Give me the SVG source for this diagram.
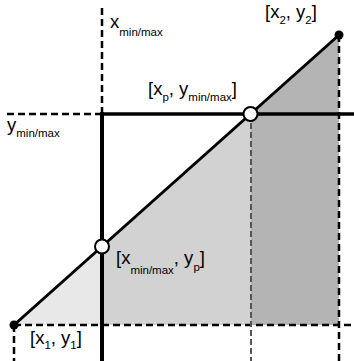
<svg xmlns="http://www.w3.org/2000/svg" width="354" height="361" viewBox="0 0 354 361">
<style>
.dash{stroke:#000;stroke-width:2.5;stroke-dasharray:7 4;fill:none}
.gdash{stroke:#555;stroke-width:2;stroke-dasharray:6 3;fill:none}
.thick{stroke:#000;fill:none}
.lbl{font-family:"Liberation Sans",Arial,sans-serif;font-size:18.5px;fill:#000}
.sub{font-size:11.5px}
</style>
<rect width="354" height="361" fill="#fff"/>
<g id="regions">
<polygon points="14,325 102,246.5 102,325" fill="#e8e8e8"/>
<polygon points="102,246.5 250.5,114 250.5,325 102,325" fill="#d2d2d2"/>
<polygon points="250.5,114 339,35 339,325 250.5,325" fill="#b4b4b4"/>
</g>
<g id="connectors">
<line class="dash" x1="102" y1="8" x2="102" y2="114"/>
<line class="dash" x1="7" y1="114" x2="102" y2="114"/>
<line class="dash" x1="14" y1="325" x2="354" y2="325"/>
<line class="dash" x1="14" y1="325" x2="14" y2="361"/>
<line class="dash" x1="339" y1="35" x2="339" y2="361"/>
<line class="gdash" x1="251" y1="114" x2="251" y2="361"/>
<line class="thick" stroke-width="4" x1="102" y1="112" x2="102" y2="361"/>
<line class="thick" stroke-width="3.5" x1="100" y1="114" x2="354" y2="114"/>
<line class="thick" stroke-width="3" x1="14" y1="325" x2="339" y2="35"/>
</g>
<g id="p1"><circle cx="14" cy="325" r="4.5" fill="#000"/>
<text class="lbl" x="30" y="344">[x<tspan class="sub" dy="5">1</tspan><tspan dy="-5">, y</tspan><tspan class="sub" dy="5">1</tspan><tspan dy="-5">]</tspan></text></g>
<g id="p2"><circle cx="339" cy="35" r="4.5" fill="#000"/>
<text class="lbl" x="265" y="18">[x<tspan class="sub" dy="6">2</tspan><tspan dy="-6">, y</tspan><tspan class="sub" dy="6">2</tspan><tspan dy="-6">]</tspan></text></g>
<g id="ip1"><circle cx="102" cy="246.5" r="7" fill="#fff" stroke="#000" stroke-width="2"/>
<text class="lbl" x="116" y="264">[x<tspan class="sub" dy="10">min/max</tspan><tspan dy="-10">, y</tspan><tspan class="sub" dy="7">p</tspan><tspan dy="-7">]</tspan></text></g>
<g id="ip2"><circle cx="250.5" cy="114" r="7" fill="#fff" stroke="#000" stroke-width="2"/>
<text class="lbl" x="148" y="95">[x<tspan class="sub" dy="6">p</tspan><tspan dy="-6">, y</tspan><tspan class="sub" dy="6">min/max</tspan><tspan dy="-6">]</tspan></text></g>
<g id="xlabel"><text class="lbl" x="110" y="28">x<tspan class="sub" dy="8">min/max</tspan></text></g>
<g id="ylabel"><text class="lbl" x="7" y="131">y<tspan class="sub" dy="6">min/max</tspan></text></g>
</svg>
